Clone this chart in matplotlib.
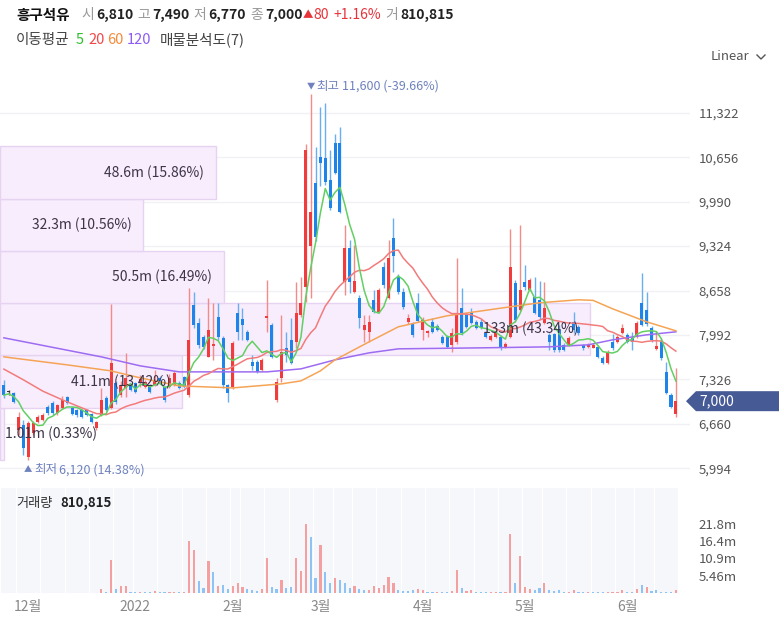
import matplotlib.pyplot as plt
import matplotlib.transforms as mtransforms
from matplotlib.patches import Rectangle, Polygon
from matplotlib.lines import Line2D
import numpy as np
import pandas as pd

plt.rcParams['font.family'] = ['Noto Sans CJK KR', 'DejaVu Sans']

# trading days (KRX holidays removed)
holidays = ['2021-12-31', '2022-01-31', '2022-02-01', '2022-02-02', '2022-03-01',
            '2022-03-09', '2022-05-05', '2022-06-01', '2022-06-06']
dates = pd.bdate_range('2021-11-24', '2022-06-17')
dates = dates[~dates.isin(pd.to_datetime(holidays))]

opens = [7240, 7130, 7120, 6570, 6640, 6160, 6520, 6690, 6720, 6910,
         6970, 6820, 6900, 7060, 6900, 6870, 6870, 6870, 6810, 6600,
         6790, 7050, 6900, 7270, 7090, 7200, 7240, 7270, 7270, 7210,
         7240, 7240, 7350, 7210, 7210, 7240, 7270, 7360, 7090, 8440,
         8170, 7960, 7660, 7830, 8260, 7950, 7240, 7210, 8320, 8230,
         8040, 7580, 7590, 7470, 8240, 8140, 7020, 7350, 7800, 7920,
         7890, 8290, 8710, 9320, 10270, 10660, 10650, 10320, 10870, 10870,
         8790, 9300, 8640, 8550, 8070, 8040, 8520, 8340, 9010, 8550,
         9450, 8860, 8640, 8190, 8170, 8470, 8070, 8020, 8190, 8130,
         7960, 7960, 7840, 7890, 8400, 8290, 8340, 8190, 8190, 8020,
         7920, 7960, 7960, 7810, 7960, 8770, 8370, 8790, 8670, 8560,
         8520, 8170, 7990, 8000, 8070, 7840, 7840, 8190, 8110, 7840,
         7810, 7800, 7810, 7650, 7570, 7890, 7890, 8020, 7990, 7950,
         7960, 8470, 8370, 8100, 7780, 7890, 7440, 7090, 6810]
highs = [7320, 7170, 7140, 6840, 6720, 6700, 6700, 6790, 6820, 6950,
         7000, 6960, 7080, 7080, 6930, 6890, 6890, 6890, 6830, 6700,
         7200, 7080, 8460, 7300, 7300, 7720, 7260, 7290, 7390, 7310,
         7260, 7470, 7380, 7230, 7400, 7450, 7300, 7380, 8700, 8640,
         8250, 7990, 8550, 8470, 8470, 7980, 7260, 7900, 8470, 8400,
         8070, 7690, 7620, 7640, 8820, 8170, 7340, 8290, 8040, 8250,
         8790, 8860, 10860, 11600, 10810, 11410, 11470, 10770, 11010, 11110,
         9640, 9420, 9340, 8590, 8290, 8290, 8670, 8690, 9090, 9420,
         9750, 8900, 8700, 8300, 8190, 8620, 8260, 8070, 8250, 8160,
         7990, 7990, 8100, 9150, 8700, 8320, 8400, 8220, 8230, 8050,
         8000, 8100, 7990, 7890, 9580, 8820, 9640, 9040, 8850, 8860,
         8800, 8790, 8020, 8020, 8140, 7870, 7980, 8340, 8140, 7860,
         7870, 7870, 7840, 7680, 7770, 8000, 7990, 8150, 8020, 8040,
         8200, 8920, 8640, 8130, 8050, 7950, 7590, 7120, 7490]
lows = [7050, 7090, 6980, 6490, 6200, 6120, 6500, 6670, 6700, 6800,
        6800, 6800, 6890, 6960, 6800, 6770, 6750, 6780, 6680, 6570,
        6780, 6850, 6880, 6960, 7070, 7060, 7150, 7120, 7210, 7200,
        7120, 7220, 7250, 6990, 7190, 7220, 7180, 7190, 7060, 8100,
        7800, 7780, 7660, 7620, 7920, 7200, 6990, 7180, 7920, 7920,
        7900, 7470, 7420, 7450, 8040, 7640, 6990, 7290, 7590, 7550,
        7800, 8260, 8480, 8550, 9400, 10220, 10240, 9870, 10400, 9820,
        8590, 8620, 8620, 8100, 7890, 7890, 8320, 8320, 8700, 8530,
        8940, 8600, 8380, 8150, 7960, 8180, 7920, 7960, 8020, 8050,
        7850, 7790, 7740, 7860, 7990, 8090, 8150, 8080, 8080, 7940,
        7900, 7950, 7760, 7800, 7940, 8180, 8350, 8670, 8650, 8300,
        8230, 8150, 7770, 7740, 7740, 7750, 7820, 8020, 7990, 7770,
        7800, 7790, 7640, 7550, 7550, 7770, 7870, 8000, 7870, 7770,
        7940, 8120, 8120, 7890, 7760, 7620, 7100, 6900, 6770]
closes = [7090, 7130, 6990, 6760, 6300, 6670, 6680, 6760, 6790, 6820,
          6820, 6940, 7020, 6970, 6810, 6790, 6760, 6790, 6690, 6690,
          7020, 6870, 7570, 6990, 7240, 7350, 7170, 7140, 7330, 7290,
          7140, 7320, 7270, 7020, 7350, 7420, 7200, 7210, 7920, 8140,
          7840, 7810, 8070, 7850, 7960, 7240, 7120, 7870, 8040, 8140,
          7920, 7520, 7440, 7620, 8270, 7660, 7290, 7740, 7690, 7570,
          8320, 8470, 10770, 9840, 9460, 10570, 10290, 9900, 10420, 9840,
          9300, 8790, 8800, 8250, 8140, 8190, 8340, 8670, 8740, 9150,
          9170, 8640, 8410, 8250, 7990, 8200, 8220, 8050, 8040, 8070,
          7870, 7810, 8020, 8290, 8020, 8110, 8170, 8100, 8100, 7960,
          7980, 8040, 7810, 7860, 9010, 8220, 8670, 8710, 8820, 8320,
          8260, 8400, 7890, 7770, 7770, 7770, 7950, 8070, 8020, 7800,
          7840, 7840, 7660, 7570, 7740, 7800, 7960, 8100, 7890, 7890,
          8170, 8140, 8160, 7920, 7820, 7650, 7120, 6920, 7000]
# volume in millions of shares
volumes = [0.08, 0.05, 0.06, 0.07, 0.1, 0.12, 0.08, 0.06, 0.05, 0.05,
           0.06, 0.05, 0.07, 0.05, 0.05, 0.04, 0.04, 0.04, 0.05, 0.08,
           1.2, 0.3, 10.4, 1.2, 2.2, 2.2, 0.3, 0.3, 0.3, 0.3,
           0.3, 0.7, 0.3, 0.3, 0.3, 0.3, 0.3, 0.4, 16.4, 13.6,
           3.7, 1.5, 10.2, 6.6, 2.2, 2.5, 1.2, 2.2, 3.0, 2.0,
           1.2, 1.0, 0.5, 1.2, 11.1, 2.0, 1.3, 4.0, 1.6, 1.9,
           11.1, 6.9, 21.83, 17.5, 4.8, 15.1, 6.5, 3.0, 4.8, 4.0,
           3.0, 1.6, 2.2, 1.3, 1.0, 1.0, 2.2, 1.7, 2.5, 5.1,
           3.3, 1.0, 0.5, 0.5, 1.0, 1.3, 0.8, 0.3, 0.3, 0.3,
           0.4, 0.3, 0.5, 7.3, 1.5, 0.5, 1.0, 0.3, 0.3, 0.3,
           0.3, 0.4, 0.3, 0.3, 18.7, 3.0, 11.8, 2.0, 1.3, 1.0,
           1.5, 3.0, 0.8, 0.5, 0.8, 0.3, 0.3, 1.0, 0.3, 0.2,
           0.2, 0.2, 0.3, 0.3, 0.3, 0.3, 0.3, 1.0, 0.3, 0.3,
           1.3, 2.5, 1.8, 0.5, 0.8, 0.3, 0.4, 0.3, 0.810815]

# moving averages (long ones need history before the window)
ma20_head_idx = [0, 4, 8, 12, 16]
ma20_head = [7480, 7320, 7150, 7020, 6900]
ma60_idx = [0, 13, 22, 28, 36, 47, 57, 61, 65, 68, 75, 81, 91, 104, 110, 118, 121, 125, 132, 138]
ma60 = [7664, 7544, 7454, 7349, 7229, 7199, 7259, 7304, 7454, 7619,
        7889, 8114, 8279, 8414, 8474, 8519, 8510, 8384, 8189, 8054]
ma120_idx = [0, 20, 28, 36, 46, 54, 61, 68, 75, 81, 98, 112, 120, 125, 132, 138]
ma120 = [7949, 7664, 7529, 7439, 7439, 7439, 7484, 7619, 7724, 7784,
         7799, 7814, 7844, 7919, 7994, 8039]

# volume profile (매물분석도), bins from low to high
profile_vol = [1.01, 41.1, 133, 50.5, 32.3, 48.6, 0]
profile_pct = [0.33, 13.42, 43.34, 16.49, 10.56, 15.86, 0]

price_ticks = [5994, 6660, 7326, 7992, 8658, 9324, 9990, 10656, 11322]

W, H = 779, 622
fig = plt.figure(figsize=(W / 100, H / 100), dpi=100)


def frac(x0, y0, x1, y1):
    return [x0 / W, 1 - y1 / H, (x1 - x0) / W, (y1 - y0) / H]


def ftext(x, y, s, **kw):
    fig.text(x / W, 1 - y / H, s, va='center', ha='left', **kw)


ax = fig.add_axes(frac(0, 70, 690, 485))
axv = fig.add_axes(frac(0, 488, 690, 593), sharex=ax)

n = len(closes)
x = np.arange(n)
o = np.array(opens); h = np.array(highs); l = np.array(lows); c = np.array(closes)
ax.set_xlim(-0.8, 140.9)
ax.set_ylim(5744, 11962)

RED, BLUE = '#f03c3c', '#1f84ea'
body_col = [RED if cc > oo else (BLUE if cc < oo else '#333333') for oo, cc in zip(o, c)]
wick_col = ['#f58a8a' if cc > oo else ('#6aaef2' if cc < oo else '#555555') for oo, cc in zip(o, c)]

# grid + right axis
ax.set_yticks(price_ticks)
ax.set_yticklabels([f'{t:,}' for t in price_ticks])
ax.yaxis.tick_right()
ax.tick_params(axis='y', length=0, pad=6, labelsize=9.5, labelcolor='#555555')
ax.tick_params(axis='x', bottom=False, labelbottom=False)
ax.grid(axis='y', color='#f0f0f5', lw=1)
ax.set_axisbelow(True)
for s in ax.spines.values():
    s.set_visible(False)

# volume profile boxes
edges = np.linspace(l.min(), h.max(), len(profile_vol) + 1)
trans = mtransforms.blended_transform_factory(ax.transAxes, ax.transData)
vmax_prof = max(profile_vol)
for k, (pv, pp) in enumerate(zip(profile_vol, profile_pct)):
    if pv <= 0:
        continue
    wfrac = pv / vmax_prof * 0.855
    ax.add_patch(Rectangle((0, edges[k]), wfrac, edges[k + 1] - edges[k], transform=trans,
                           facecolor='#f8edfd', edgecolor='#e6d3f2', lw=1, zorder=1))
    ymid = (edges[k] + edges[k + 1]) / 2
    lab = f'{pv:.3g}m ({pp:.2f}%)'
    if wfrac * 690 > 120:
        ax.text(wfrac - 12 / 690, ymid, lab, transform=trans, ha='right', va='center',
                fontsize=10, color='#3d3448', zorder=8)
    else:
        ax.text(5 / 690, ymid, lab, transform=trans, ha='left', va='center',
                fontsize=10, color='#3d3448', zorder=8)

# candles
ax.vlines(x, l, h, colors=wick_col, lw=1, zorder=3)
ax.bar(x, np.maximum(np.abs(c - o), 18), bottom=np.minimum(o, c), width=0.62,
       color=body_col, zorder=4)

# moving averages
cs = pd.Series(closes, dtype=float)
ma5 = cs.rolling(5, min_periods=1).mean()
ma20_full = cs.rolling(20).mean()
ax.plot(ma120_idx, ma120, color='#9d6cf2', lw=1.1, zorder=5)
ax.plot(ma60_idx, ma60, color='#f5a455', lw=1.1, zorder=5)
ax.plot(ma20_head_idx + list(range(19, n)), ma20_head + list(ma20_full[19:]),
        color='#f27b7b', lw=1.1, zorder=5)
ax.plot(x, ma5, color='#62cf62', lw=1.1, zorder=6)

# high / low markers
last = closes[-1]
imax, imin = int(np.argmax(h)), int(np.argmin(l))
hc = '#6f82bf'
for i0, val, dy, arrow, word in [(imax, h[imax], 8, '▼', '최고'), (imin, l[imin], -10, '▲', '최저')]:
    pct = (last - val) / val * 100
    ax.annotate(arrow, (i0, val), xytext=(0, dy), textcoords='offset pixels',
                ha='center', va='center', fontsize=6, color=hc)
    ax.annotate(word, (i0, val), xytext=(6, dy), textcoords='offset pixels',
                ha='left', va='center', fontsize=9, color=hc)
    ax.annotate(f'{val:,} ({pct:.2f}%)', (i0, val), xytext=(31, dy), textcoords='offset pixels',
                ha='left', va='center', fontsize=9, color=hc)

# volume panel
vol = np.array(volumes)
vol_col = ['#f5a0a0' if (c[i] > c[i - 1] if i else c[i] >= o[i]) else '#8fc2f5' for i in range(n)]
axv.axvspan(-0.5, n - 0.5, color='#f5f7fb', zorder=0, lw=0)
wk = dates.isocalendar().week.values
for i in range(1, n):
    if wk[i] != wk[i - 1]:
        axv.axvline(i - 0.5, color='white', lw=0.8, zorder=0.5)
axv.bar(x, vol, width=0.45, color=vol_col, zorder=2)
vmax = vol.max()
axv.set_ylim(0, 33.1)
vt = [vmax * f for f in (0.25, 0.5, 0.75, 1.0)]
axv.set_yticks(vt)
axv.set_yticklabels([f'{v:.3g}m' for v in vt])
axv.yaxis.tick_right()
axv.tick_params(axis='y', length=0, pad=6, labelsize=9.5, labelcolor='#555555')
mpos = [i for i in range(1, n) if dates[i].month != dates[i - 1].month]
axv.set_xticks(mpos)
axv.set_xticklabels([str(dates[i].year) if dates[i].month == 1 else f'{dates[i].month}월' for i in mpos])
axv.tick_params(axis='x', length=0, pad=5, labelsize=10, labelcolor='#888888')
for s in axv.spines.values():
    s.set_visible(False)

# current price tag
fig.canvas.draw()
yd = ax.transData.transform((0, last))[1]
ident = mtransforms.IdentityTransform()
fig.add_artist(Polygon([(686, yd), (696, yd + 10), (779, yd + 10), (779, yd - 10), (696, yd - 10)],
                       closed=True, facecolor='#465a96', edgecolor='none', transform=ident))
fig.text(699, yd, f'{last:,}', transform=ident, color='white', fontsize=10, va='center', ha='left')

# header
prev = closes[-2]
chg = last - prev
dark, grey, red = '#222222', '#999999', '#e8333a'
ftext(16, 15, '흥구석유', fontsize=10.5, fontweight='bold', color='#111111')
for xx, lab, xv, val in [(81, '시', 96, opens[-1]), (137, '고', 152, highs[-1]),
                         (193, '저', 208, lows[-1]), (250, '종', 265, last)]:
    ftext(xx, 15, lab, fontsize=10, color=grey)
    ftext(xv, 15, f'{val:,}', fontsize=10, fontweight='bold', color=dark)
ftext(303, 15, '▲' if chg >= 0 else '▼', fontsize=7.5, color=red)
ftext(313, 15, f'{abs(chg)}', fontsize=10, color=red)
ftext(333, 15, f'{chg / prev * 100:+.2f}%', fontsize=10, color=red)
ftext(385, 15, '거', fontsize=10, color=grey)
ftext(400, 15, f'{round(volumes[-1] * 1e6):,}', fontsize=10, fontweight='bold', color=dark)

ftext(16, 40, '이동평균', fontsize=10.5, color='#444444')
for xx, lab, col in [(76, '5', '#2fbf2f'), (88, '20', '#f2474a'), (107, '60', '#f58a3a'), (127, '120', '#8c5cf5')]:
    ftext(xx, 40, lab, fontsize=10.5, color=col)
ftext(160, 40, '매물분석도(7)', fontsize=10.5, color='#444444')

ftext(711, 57, 'Linear', fontsize=9.5, color='#555555')
fig.add_artist(Line2D([757, 761, 765], [H - 55, H - 59, H - 55], transform=ident,
                      color='#555555', lw=1))

ftext(16, 503, '거래량', fontsize=9.5, color='#333333')
ftext(60, 503, f'{round(volumes[-1] * 1e6):,}', fontsize=9.5, fontweight='bold', color='#222222')

fig.savefig('out.png', dpi=100)
